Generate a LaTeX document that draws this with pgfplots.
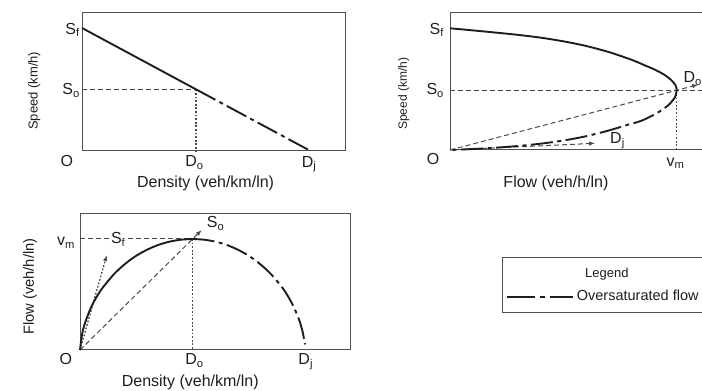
\documentclass[border=0pt]{standalone}
\usepackage{fontspec}
\setmainfont{Liberation Sans}
\usepackage{pgfplots}
\pgfplotsset{compat=1.18}
\usetikzlibrary{arrows.meta}
\definecolor{ink}{HTML}{1E1E1E}
\definecolor{frame}{HTML}{505050}
\definecolor{guide}{HTML}{4A4A4A}
\tikzset{
 curve/.style={ink, line width=1.9pt},
 over/.style={ink, line width=1.9pt, dash pattern=on 22pt off 4.5pt on 4pt off 4.5pt},
 dashedg/.style={guide, line width=1pt, dash pattern=on 5pt off 3pt},
 dottedg/.style={guide, line width=1.3pt, dash pattern=on 1.8pt off 1.8pt},
 lbl/.style={inner sep=0pt, font=\fontsize{16}{19}\selectfont, text=ink},
 tip/.style={-{Latex[length=6pt,width=4.5pt]}},
}
\pgfplotsset{panel/.style={anchor=south west, scale only axis, ticks=none, clip=false,
  axis line style={frame, line width=1pt}, xmin=0, ymin=0}}
\begin{document}
\begin{tikzpicture}
\useasboundingbox (0pt,0pt) rectangle (702pt,391pt);
\clip (0pt,0pt) rectangle (702pt,391pt);

% ---------- Panel 1: speed vs density ----------
\begin{axis}[panel, at={(82pt,240.3pt)}, width=263pt, height=138pt, xmax=1.1535, ymax=1.1247]
\addplot[dashedg] coordinates {(0,0.5) (0.5,0.5)};
\addplot[dottedg] coordinates {(0.5,0.5) (0.5,0)};
\addplot[curve] coordinates {(0,1) (0.5,0.5)};
\addplot[over] coordinates {(0.5,0.5) (1,0)};
\node[lbl, anchor=base east] at (axis cs:-0.009,0.951) {S\textsubscript{f}};
\node[lbl, anchor=base east] at (axis cs:-0.009,0.454) {S\textsubscript{o}};
\node[lbl, anchor=base] at (axis cs:-0.067,-0.130) {O};
\node[lbl, anchor=base west] at (axis cs:0.452,-0.130) {D\textsubscript{o}};
\node[lbl, anchor=base west] at (axis cs:0.963,-0.133) {D\textsubscript{j}};
\node[lbl, anchor=base west] at (axis cs:0.241,-0.304) {Density (veh/km/ln)};
\node[lbl, font=\fontsize{13}{15}\selectfont, rotate=90, anchor=base west] at (axis cs:-0.195,0.169) {Speed (km/h)};
\end{axis}

% ---------- Panel 2: speed vs flow ----------
\begin{axis}[panel, at={(450pt,241pt)}, width=256pt, height=137pt, xmax=1.1293, ymax=1.1257]
\addplot[dashedg] coordinates {(0,0.49) (1.13,0.49)};
\addplot[dottedg] coordinates {(1,0.49) (1,0)};
\addplot[dashedg, tip] coordinates {(0,0) (1.095,0.537)};
\addplot[dashedg, tip] coordinates {(0,0) (0.64,0.055)};
\addplot[curve, smooth] coordinates {(0,1) (0.1,0.983) (0.2,0.965) (0.3,0.946) (0.4,0.923) (0.5,0.893) (0.6,0.855) (0.7,0.805) (0.8,0.742) (0.86,0.695) (0.904,0.66) (0.944,0.62) (0.973,0.58) (0.992,0.54) (0.9987,0.51) (1,0.49)};
\addplot[over, smooth] coordinates {(1,0.49) (0.994,0.44) (0.975,0.39) (0.944,0.34) (0.9,0.29) (0.844,0.24) (0.78,0.205) (0.7,0.16) (0.6,0.113) (0.5,0.078) (0.4,0.052) (0.3,0.033) (0.2,0.019) (0.1,0.008) (0,0)};
\node[lbl, anchor=base east] at (axis cs:-0.026,0.953) {S\textsubscript{f}};
\node[lbl, anchor=base east] at (axis cs:-0.026,0.452) {S\textsubscript{o}};
\node[lbl, anchor=base] at (axis cs:-0.075,-0.123) {O};
\node[lbl, anchor=base west] at (axis cs:0.955,-0.1315) {v\textsubscript{m}};
\node[lbl, anchor=base west] at (axis cs:1.030,0.555) {D\textsubscript{o}};
\node[lbl, anchor=base west] at (axis cs:0.706,0.053) {D\textsubscript{j}};
\node[lbl, anchor=base west] at (axis cs:0.235,-0.312) {Flow (veh/h/ln)};
\node[lbl, font=\fontsize{12}{14}\selectfont, rotate=90, anchor=base west] at (axis cs:-0.190,0.164) {Speed (km/h)};
\end{axis}

% ---------- Panel 3: flow vs density ----------
\begin{axis}[panel, at={(80pt,41pt)}, width=270pt, height=136.7pt, xmax=1.2, ymax=1.2315]
\addplot[dashedg] coordinates {(0,1) (0.5,1)};
\addplot[dottedg] coordinates {(0.5,1) (0.5,0)};
\addplot[dashedg, tip] coordinates {(0,0) (0.541,1.081)};
\addplot[dottedg, tip] coordinates {(0,0) (0.119,0.856)};
\addplot[curve, smooth] coordinates {(0,0) (0.01,0.15) (0.025,0.26) (0.05,0.388) (0.075,0.482) (0.1,0.559) (0.15,0.681) (0.2,0.775) (0.25,0.849) (0.3,0.905) (0.35,0.948) (0.4,0.977) (0.45,0.994) (0.5,1)};
\addplot[over, smooth] coordinates {(0.5,1) (0.55,0.994) (0.6,0.977) (0.65,0.948) (0.7,0.905) (0.75,0.849) (0.8,0.775) (0.85,0.681) (0.9,0.559) (0.925,0.482) (0.95,0.388) (0.975,0.265) (0.99,0.159) (1,0.05)};
\node[lbl, anchor=base east] at (axis cs:-0.022,0.937) {v\textsubscript{m}};
\node[lbl, anchor=base west, fill=white, inner xsep=2pt] at (axis cs:0.128,0.955) {S\textsubscript{f}};
\node[lbl, anchor=base west] at (axis cs:0.563,1.104) {S\textsubscript{o}};
\node[lbl, anchor=base] at (axis cs:-0.063,-0.135) {O};
\node[lbl, anchor=base west] at (axis cs:0.467,-0.135) {D\textsubscript{o}};
\node[lbl, anchor=base west] at (axis cs:0.970,-0.135) {D\textsubscript{j}};
\node[lbl, anchor=base west] at (axis cs:0.185,-0.329) {Density (veh/km/ln)};
\node[lbl, font=\fontsize{14.7}{17}\selectfont, rotate=90, anchor=base west] at (axis cs:-0.205,0.135) {Flow (veh/h/ln)};
\end{axis}

% ---------- Legend ----------
\draw[frame, line width=0.8pt] (502pt,79pt) rectangle (710pt,134pt);
\node[anchor=base west, inner sep=0pt, text=ink, font=\fontsize{13}{15}\selectfont] at (585pt,113pt) {Legend};
\draw[ink, line width=1.6pt, dash pattern=on 28pt off 5pt on 5pt off 5pt on 23pt] (506.7pt,94pt) -- (573.3pt,94pt);
\node[anchor=base west, inner sep=0pt, text=ink, font=\fontsize{14.5}{17}\selectfont] at (576.7pt,90.6pt) {Oversaturated flow};
\end{tikzpicture}
\end{document}
